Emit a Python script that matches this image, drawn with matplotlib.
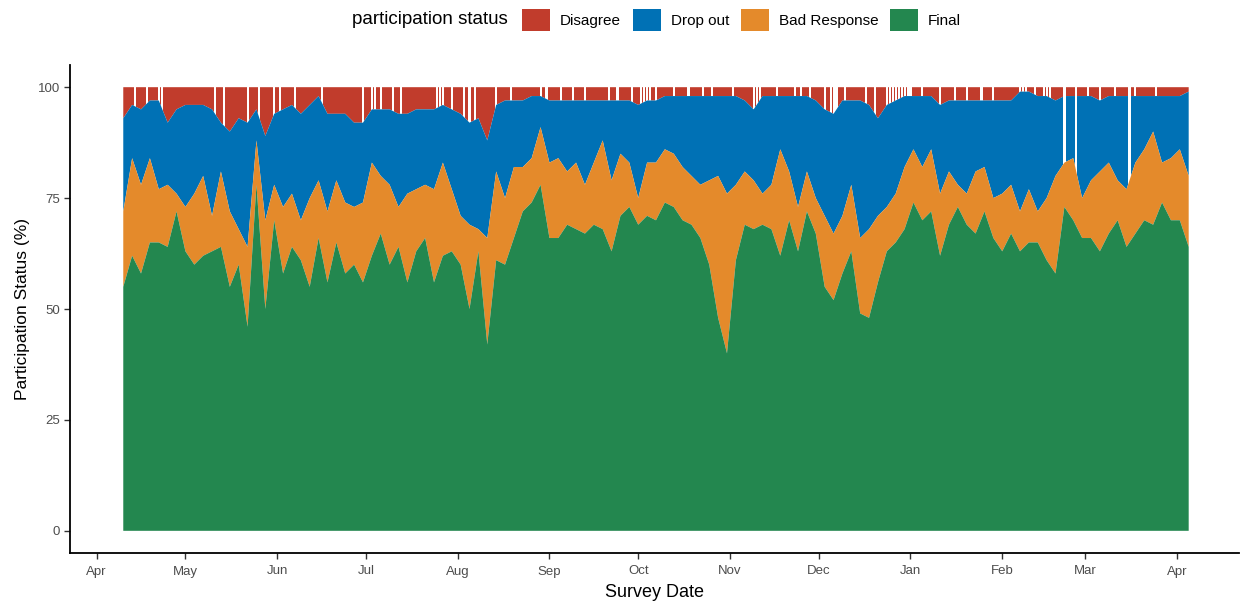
import numpy as np
import pandas as pd
import matplotlib
matplotlib.use("Agg")
import matplotlib.pyplot as plt
import matplotlib.dates as mdates
from matplotlib.patches import Patch

plt.rcParams['font.family'] = ['Liberation Sans', 'DejaVu Sans']

# survey days, one value every third day
survey_start = pd.Timestamp("2022-04-10")
survey_dates = pd.date_range(survey_start, periods=121, freq="3D")

# share of respondents per status (%)
final = [
    55, 62, 58, 65, 65, 64, 72, 63, 60, 62, 63, 64, 55, 60, 46, 78, 50, 70, 58, 64,
    61, 55, 66, 56, 65, 58, 60, 56, 62, 67, 60, 64, 56, 63, 66, 56, 62, 63, 60, 50,
    63, 42, 61, 60, 66, 72, 74, 78, 66, 66, 69, 68, 67, 69, 68, 63, 71, 73, 69, 71,
    70, 74, 73, 70, 69, 66, 60, 48, 40, 61, 69, 68, 69, 68, 62, 70, 63, 72, 67, 55,
    52, 58, 63, 49, 48, 56, 63, 65, 68, 74, 70, 72, 62, 69, 73, 69, 67, 72, 66, 63,
    67, 63, 65, 65, 61, 58, 73, 70, 66, 66, 63, 67, 70, 64, 67, 70, 69, 74, 70, 70, 64,
]
bad_response = [
    17, 22, 20, 19, 12, 14, 4, 10, 16, 18, 8, 17, 17, 8, 18, 10, 20, 8, 15, 12,
    9, 20, 13, 16, 14, 16, 13, 18, 21, 13, 18, 9, 20, 14, 12, 21, 21, 14, 11, 19,
    5, 24, 20, 15, 16, 10, 10, 13, 17, 18, 12, 15, 11, 14, 20, 16, 14, 10, 6, 12,
    13, 12, 12, 12, 11, 12, 19, 32, 36, 17, 12, 11, 7, 10, 24, 11, 10, 9, 8, 16,
    15, 13, 15, 17, 20, 15, 10, 11, 14, 12, 12, 14, 14, 12, 5, 7, 14, 10, 9, 13,
    11, 9, 12, 7, 14, 22, 10, 14, 9, 13, 18, 16, 9, 13, 16, 16, 21, 9, 14, 16, 16,
]
drop_out = [
    21, 12, 17, 13, 20, 14, 19, 23, 20, 16, 24, 11, 18, 25, 28, 7, 19, 16, 22, 20,
    24, 21, 19, 22, 15, 20, 19, 18, 12, 15, 17, 21, 18, 18, 17, 18, 13, 18, 23, 23,
    25, 22, 15, 22, 15, 15, 14, 7, 14, 13, 16, 14, 19, 14, 9, 18, 12, 14, 21, 14,
    14, 12, 13, 16, 18, 20, 19, 18, 22, 20, 16, 16, 22, 20, 12, 17, 25, 17, 22, 24,
    27, 26, 19, 31, 28, 22, 23, 21, 16, 12, 16, 12, 20, 16, 19, 21, 16, 15, 22, 21,
    19, 27, 22, 26, 23, 17, 15, 14, 23, 19, 16, 15, 19, 21, 15, 12, 8, 15, 14, 12, 19,
]
disagree = [
    7, 4, 5, 3, 3, 8, 5, 4, 4, 4, 5, 8, 10, 7, 8, 5, 11, 6, 5, 4,
    6, 4, 2, 6, 6, 6, 8, 8, 5, 5, 5, 6, 6, 5, 5, 5, 4, 5, 6, 8,
    7, 12, 4, 3, 3, 3, 2, 2, 3, 3, 3, 3, 3, 3, 3, 3, 3, 3, 4, 3,
    3, 2, 2, 2, 2, 2, 2, 2, 2, 2, 3, 5, 2, 2, 2, 2, 2, 2, 3, 5,
    6, 3, 3, 3, 4, 7, 4, 3, 2, 2, 2, 2, 4, 3, 3, 3, 3, 3, 3, 3,
    3, 1, 1, 2, 2, 3, 2, 2, 2, 2, 3, 2, 2, 2, 2, 2, 2, 2, 2, 2, 1,
]

# days (since first survey) with no disagree / no drop-out records
no_disagree_day = [
    4, 8, 12, 13, 31, 34, 42, 46, 51, 53, 58, 67, 81, 84, 85, 87, 91, 94,
    106, 107, 108, 111, 115, 117, 119, 126, 131, 141, 143, 148, 152, 156,
    164, 167, 172, 175, 176, 177, 178, 180, 186, 191, 196, 199, 206, 213,
    214, 215, 221, 227, 229, 232, 237, 239, 240, 241, 244, 251, 254, 258,
    259, 260, 261, 262, 263, 264, 265, 266, 270, 276, 281, 285, 290, 294,
    303, 304, 305, 308, 311, 312, 313, 326, 330, 335, 342, 349,
]
no_dropout_day = [318, 322, 340]

status_labels = ["Final", "Bad Response", "Drop out", "Disagree"]
colors = ["#23874f", "#e48a2b", "#0071b5", "#c13c2c"]

fig = plt.figure(figsize=(12.41, 6.03), dpi=100)
ax = fig.add_axes([70 / 1241, 50 / 603, 1169 / 1241, 488 / 603])

polys = ax.stackplot(survey_dates, final, bad_response, drop_out, disagree,
                     colors=colors, linewidth=0, antialiased=True)

# white slits where a status is missing for a day
gap1 = survey_start + pd.to_timedelta(no_disagree_day, unit="D")
ax.bar(gap1, 100, width=0.7, color="white", linewidth=0, zorder=1.5)
gap2 = survey_start + pd.to_timedelta(no_dropout_day, unit="D")
ax.bar(gap2, 100, width=0.8, color="white", linewidth=0, zorder=2.5)
polys[3].set_zorder(1)
polys[2].set_zorder(2)
polys[1].set_zorder(3)
polys[0].set_zorder(3.5)

ax.set_xlim(pd.Timestamp("2022-03-23"), pd.Timestamp("2023-04-22"))
ax.set_ylim(-5, 105)
ax.set_yticks([0, 25, 50, 75, 100])
ax.xaxis.set_major_locator(mdates.MonthLocator())
ax.xaxis.set_major_formatter(mdates.DateFormatter("%b"))

for side in ["top", "right"]:
    ax.spines[side].set_visible(False)
for side in ["left", "bottom"]:
    ax.spines[side].set_linewidth(1.3)
    ax.spines[side].set_color("black")
ax.tick_params(direction="out", length=4, width=1, color="#333333",
               labelsize=9.5, labelcolor="#4d4d4d", pad=3)
ax.tick_params(axis="x", pad=5)

ax.set_xlabel("Survey Date", fontsize=13, labelpad=5)
ax.set_ylabel("Participation Status (%)", fontsize=12.5, labelpad=6)

# legend on top, title inline
fig.text(352 / 1241, 1 - 20 / 603, "participation status", fontsize=13.5,
         ha="left", va="center")
handles = [Patch(facecolor=colors[i]) for i in [3, 2, 1, 0]]
labels = [status_labels[i] for i in [3, 2, 1, 0]]
fig.legend(handles, labels, ncol=4, loc="center left",
           bbox_to_anchor=(522 / 1241, 1 - 20 / 603), frameon=False,
           fontsize=11, handlelength=1.85, handleheight=1.85,
           handletextpad=0.65, columnspacing=0.75, borderpad=0,
           borderaxespad=0)

fig.savefig("out.png", dpi=100)
